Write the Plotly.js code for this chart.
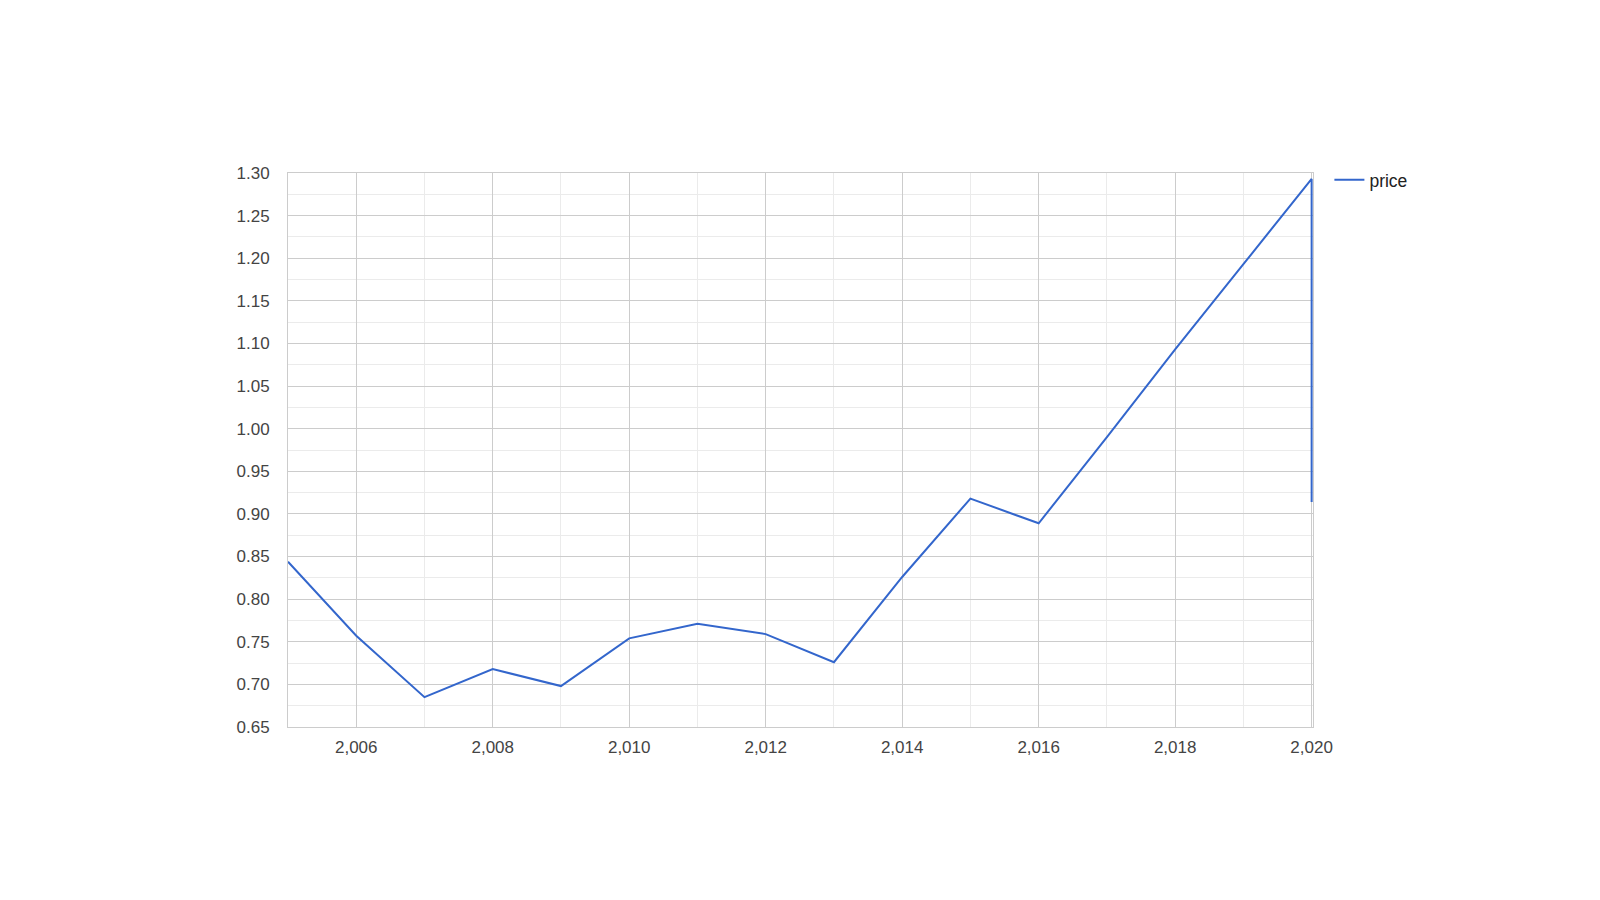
<!DOCTYPE html>
<html>
<head>
<meta charset="utf-8">
<script src="https://cdn.plot.ly/plotly-3.0.1.min.js"></script>
<style>html,body{margin:0;padding:0;background:#fff;}#chart{width:1600px;height:900px;}</style>
</head>
<body>
<div id="chart"></div>
<script>
var years = [2005, 2006, 2007, 2008, 2009, 2010, 2011, 2012, 2013, 2014, 2015, 2016, 2017, 2018, 2019, 2020, 2020];
var price = [0.844, 0.757, 0.685, 0.718, 0.698, 0.754, 0.771, 0.759, 0.726, 0.826, 0.918, 0.889, 0.990, 1.093, 1.193, 1.293, 0.914];
var seriesName = 'price';

var trace = {
  x: years,
  y: price,
  type: 'scatter',
  mode: 'lines',
  name: seriesName,
  line: {color: '#3366cc', width: 2},
  showlegend: true
};

var layout = {
  width: 1600,
  height: 900,
  paper_bgcolor: '#fff',
  plot_bgcolor: '#fff',
  margin: {l: 288, r: 287, t: 173, b: 173, pad: 0},
  font: {family: '"Liberation Sans", Arial, sans-serif', size: 17, color: '#444'},
  showlegend: true,
  legend: {x: 1.016, y: 1.02, xanchor: 'left', yanchor: 'top', font: {size: 17.5, color: '#222'}, bgcolor: 'rgba(0,0,0,0)'},
  xaxis: {
    range: [2005, 2020.02],
    tick0: 2006,
    dtick: 2,
    tickformat: ',d',
    showgrid: true,
    gridcolor: '#cccccc',
    gridwidth: 1,
    minor: {dtick: 1, tick0: 2005, showgrid: true, gridcolor: '#ebebeb', gridwidth: 1},
    showline: true,
    linecolor: '#cccccc',
    linewidth: 1,
    mirror: true,
    zeroline: false,
    ticks: 'outside',
    ticklen: 5,
    tickcolor: 'rgba(0,0,0,0)',
    tickfont: {size: 17, color: '#444'}
  },
  yaxis: {
    range: [0.65, 1.30],
    tick0: 0.65,
    dtick: 0.05,
    tickformat: '.2f',
    showgrid: true,
    gridcolor: '#cccccc',
    gridwidth: 1,
    minor: {dtick: 0.025, tick0: 0.65, showgrid: true, gridcolor: '#ebebeb', gridwidth: 1},
    showline: true,
    linecolor: '#cccccc',
    linewidth: 1,
    mirror: true,
    zeroline: false,
    ticks: 'outside',
    ticklen: 14,
    tickcolor: 'rgba(0,0,0,0)',
    tickfont: {size: 17, color: '#444'}
  }
};

Plotly.newPlot('chart', [trace], layout, {displayModeBar: false, staticPlot: true});
</script>
</body>
</html>
